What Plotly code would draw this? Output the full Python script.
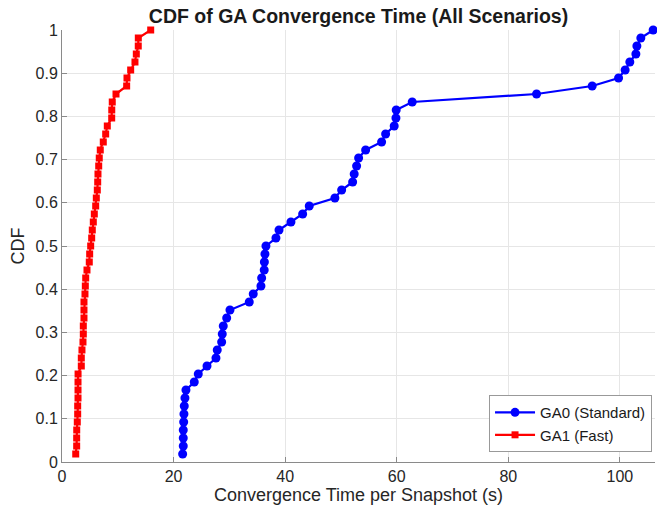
import numpy as np
import plotly.graph_objects as go

# Per-snapshot convergence times (s), sorted, for each GA variant
ga0_times = [21.63, 21.74, 21.74, 21.74, 21.81, 21.86, 21.92, 22.04, 22.22, 23.71,
             24.43, 25.99, 27.60, 27.83, 28.62, 28.73, 28.91, 29.52, 30.11, 33.57,
             34.28, 35.66, 35.79, 36.25, 36.28, 36.38, 36.56, 38.35, 38.90, 41.04,
             43.14, 44.32, 48.92, 50.13, 52.10, 52.38, 52.81, 53.17, 54.43, 57.29,
             58.01, 59.55, 59.86, 59.91, 62.78, 85.07, 95.04, 99.77, 100.95, 101.79,
             102.87, 103.05, 103.76, 105.97]
ga1_times = [2.46, 2.63, 2.63, 2.64, 2.74, 2.81, 2.81, 2.87, 2.87, 2.87,
             2.88, 3.46, 3.46, 3.58, 3.76, 3.82, 3.82, 3.94, 3.94, 3.94,
             4.12, 4.18, 4.25, 4.48, 4.89, 4.96, 5.14, 5.32, 5.43, 5.61,
             5.79, 6.04, 6.15, 6.33, 6.40, 6.45, 6.58, 6.68, 6.86, 7.40,
             7.83, 8.12, 8.91, 8.92, 9.01, 9.68, 11.59, 11.65, 12.31, 13.08,
             13.32, 13.67, 13.68, 15.90]

series_names = ["GA0 (Standard)", "GA1 (Fast)"]
x_ticks = [0, 20, 40, 60, 80, 100]
y_ticks = [0, 0.1, 0.2, 0.3, 0.4, 0.5, 0.6, 0.7, 0.8, 0.9, 1]
y_tick_text = ["0", "0.1", "0.2", "0.3", "0.4", "0.5", "0.6", "0.7", "0.8", "0.9", "1"]


def ecdf(samples):
    xs = np.sort(np.asarray(samples, dtype=float))
    ps = np.arange(1, len(xs) + 1) / len(xs)
    return xs, ps


font_family = "Liberation Sans, Arial, Helvetica, sans-serif"
text_col = "#262626"
axis_col = "#8a8a8a"

fig = go.Figure()

x0, p0 = ecdf(ga0_times)
fig.add_trace(go.Scatter(
    x=x0, y=p0, mode="lines+markers", name=series_names[0],
    line=dict(color="#0000ff", width=2.2),
    marker=dict(symbol="circle", size=9, color="#0000ff"),
    cliponaxis=False,
))

x1, p1 = ecdf(ga1_times)
fig.add_trace(go.Scatter(
    x=x1, y=p1, mode="lines+markers", name=series_names[1],
    line=dict(color="#ff0000", width=2.2),
    marker=dict(symbol="square", size=7, color="#ff0000"),
    cliponaxis=False,
))

fig.update_layout(
    width=657, height=516,
    margin=dict(l=62, r=2, t=30, b=54),
    paper_bgcolor="white", plot_bgcolor="white",
    font=dict(family=font_family, size=16, color=text_col),
    title=dict(
        text="<b>CDF of GA Convergence Time (All Scenarios)</b>",
        x=0.5457, xanchor="center", y=0.968, yanchor="middle",
        font=dict(size=19.5, color="#1a1a1a"),
    ),
    xaxis=dict(
        range=[0, 106.3], tickvals=x_ticks,
        showgrid=True, gridcolor="#e6e6e6", gridwidth=1,
        showline=True, linecolor=axis_col, linewidth=1,
        ticks="inside", ticklen=5, tickcolor=axis_col,
        zeroline=False, tickfont=dict(size=16),
        title=dict(text="Convergence Time per Snapshot (s)", font=dict(size=18), standoff=4),
    ),
    yaxis=dict(
        range=[0, 1], tickvals=y_ticks, ticktext=y_tick_text,
        showgrid=True, gridcolor="#e6e6e6", gridwidth=1,
        showline=True, linecolor=axis_col, linewidth=1,
        ticks="inside", ticklen=5, tickcolor=axis_col,
        zeroline=False, tickfont=dict(size=16),
        title=dict(text="CDF", font=dict(size=18), standoff=6),
    ),
    legend=dict(
        x=0.995, y=0.023, xanchor="right", yanchor="bottom",
        bgcolor="white", bordercolor="#999999", borderwidth=1,
        font=dict(size=15, color="#1a1a1a"),
        itemwidth=40, tracegroupgap=0,
    ),
    showlegend=True,
)

fig.write_html("out.html")
